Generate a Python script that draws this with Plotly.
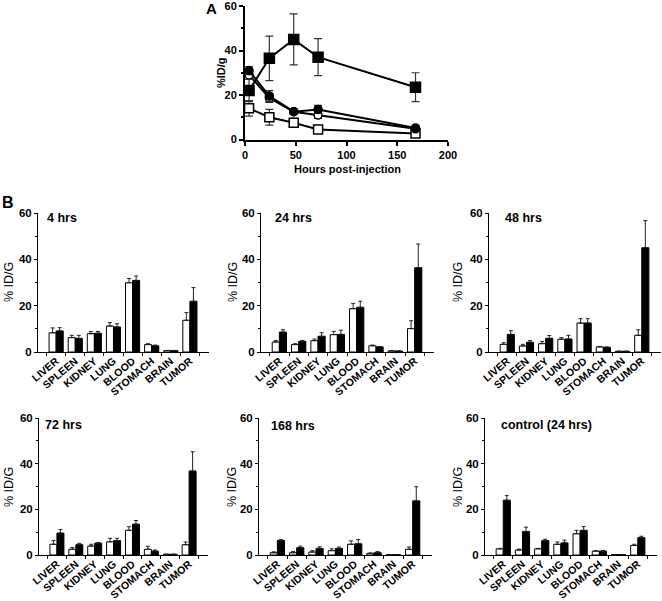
import plotly.graph_objects as go

W, H = 662, 601

# ---------------- Data ----------------
hours = [4, 24, 48, 72, 168]
a_sq_filled = [22.0, 36.5, 45.0, 37.0, 23.5]
a_sq_filled_err = [5.0, 10.0, 11.5, 8.3, 6.5]
a_circ_filled = [31.0, 19.5, 12.5, 13.5, 5.2]
a_circ_filled_err = [1.8, 2.5, 1.0, 1.8, 0.6]
a_circ_open = [29.0, 18.7, 12.5, 11.0, 4.8]
a_circ_open_err = [2.0, 2.0, 1.0, 1.5, 0.5]
a_sq_open = [14.0, 10.0, 7.5, 4.5, 2.7]
a_sq_open_err = [3.5, 3.5, 2.0, 1.0, 0.5]

organs = ["LIVER", "SPLEEN", "KIDNEY", "LUNG", "BLOOD", "STOMACH", "BRAIN", "TUMOR"]
panel_titles = ["4 hrs", "24 hrs", "48 hrs", "72 hrs", "168 hrs", "control (24 hrs)"]

white_4 = [8.3, 6.2, 7.9, 11.2, 29.9, 3.2, 0.6, 13.7]
white_4_err = [2.1, 1.0, 0.9, 1.5, 1.8, 0.4, 0.1, 3.3]
black_4 = [9.1, 5.9, 8.1, 10.8, 30.9, 2.7, 0.6, 21.9]
black_4_err = [1.4, 1.3, 0.8, 1.4, 1.9, 0.3, 0.1, 5.9]

white_24 = [4.3, 3.2, 4.9, 7.5, 18.7, 2.7, 0.5, 10.1]
white_24_err = [0.7, 0.4, 0.7, 1.4, 2.3, 0.3, 0.1, 3.4]
black_24 = [8.6, 4.6, 6.8, 7.6, 19.3, 2.2, 0.4, 36.4]
black_24_err = [1.0, 0.4, 1.5, 1.8, 2.6, 0.2, 0.1, 10.2]

white_48 = [3.3, 2.6, 3.6, 5.5, 12.5, 2.2, 0.3, 7.2]
white_48_err = [0.7, 0.7, 0.9, 0.7, 1.9, 0.2, 0.05, 2.4]
black_48 = [7.6, 4.2, 5.9, 5.6, 12.5, 2.0, 0.3, 45.0]
black_48_err = [1.6, 0.7, 1.2, 1.6, 1.9, 0.2, 0.05, 11.7]

white_72 = [4.7, 2.5, 3.9, 5.8, 10.8, 2.5, 0.3, 4.5]
white_72_err = [1.6, 0.8, 0.8, 1.5, 1.6, 1.3, 0.05, 1.2]
black_72 = [9.6, 4.5, 5.2, 6.3, 13.5, 1.7, 0.3, 36.8]
black_72_err = [1.6, 0.6, 0.3, 1.0, 1.6, 0.5, 0.05, 8.4]

white_168 = [1.0, 1.0, 1.3, 1.9, 4.7, 0.7, 0.15, 2.5]
white_168_err = [0.4, 0.5, 0.6, 0.8, 1.5, 0.2, 0.05, 1.0]
black_168 = [6.4, 3.2, 2.9, 2.9, 4.9, 1.0, 0.15, 23.7]
black_168_err = [0.3, 0.7, 0.7, 0.6, 1.9, 0.5, 0.05, 6.2]

white_ctrl = [2.7, 2.2, 2.7, 4.7, 9.3, 1.7, 0.2, 4.2]
white_ctrl_err = [0.2, 0.4, 0.2, 1.0, 1.5, 0.2, 0.05, 0.5]
black_ctrl = [24.0, 10.3, 6.3, 5.3, 10.8, 1.7, 0.2, 7.6]
black_ctrl_err = [2.0, 1.9, 0.6, 1.2, 1.7, 0.3, 0.05, 0.6]

bar_panels = [
    (white_4, white_4_err, black_4, black_4_err),
    (white_24, white_24_err, black_24, black_24_err),
    (white_48, white_48_err, black_48, black_48_err),
    (white_72, white_72_err, black_72, black_72_err),
    (white_168, white_168_err, black_168, black_168_err),
    (white_ctrl, white_ctrl_err, black_ctrl, black_ctrl_err),
]

# ---------------- Layout helpers ----------------
FONT = "Liberation Sans"


def px(x):
    return x / W


def py(y):
    return 1 - y / H


fig = go.Figure()

# ---------------- Panel A ----------------
def line_trace(y, err, symbol, fill, size):
    return go.Scatter(
        x=hours, y=y, mode="lines+markers", xaxis="x", yaxis="y",
        line=dict(color="black", width=2),
        marker=dict(symbol=symbol, size=size, color=fill, line=dict(color="black", width=1.5)),
        error_y=dict(type="data", array=err, color="#333333", thickness=1.2, width=4),
        cliponaxis=False, showlegend=False,
    )

fig.add_trace(line_trace(a_sq_open, a_sq_open_err, "square", "white", 9))
fig.add_trace(line_trace(a_circ_open, a_circ_open_err, "circle", "white", 8))
fig.add_trace(line_trace(a_circ_filled, a_circ_filled_err, "circle", "black", 8))
fig.add_trace(line_trace(a_sq_filled, a_sq_filled_err, "square", "black", 10))

axA = dict(showline=True, linecolor="black", linewidth=2, ticks="outside", ticklen=4,
           tickwidth=2, tickcolor="black", showgrid=False, zeroline=False, automargin=False,
           ticklabeloverflow="allow",
           tickfont=dict(family=FONT, size=11, color="black", weight="bold"))
fig.update_layout(
    xaxis=dict(domain=[px(245), px(448)], anchor="y", range=[0, 200], dtick=50, **axA),
    yaxis=dict(domain=[py(139.5), py(6)], anchor="x", range=[0, 60], dtick=20,
               minor=dict(dtick=10, ticks="outside", ticklen=2, tickwidth=1.5, tickcolor="black"), **axA),
)

# ---------------- Panel B bar charts ----------------
xdoms = [(38, 209), (261, 434), (489, 661), (39, 208), (259, 432), (485, 657)]
ydoms = [(213, 352)] * 3 + [(418, 555)] * 3

for i, (w, we, b, be) in enumerate(bar_panels):
    n = i + 2
    xa, ya = f"x{n}", f"y{n}"
    for vals, errs, fill in ((w, we, "white"), (b, be, "black")):
        fig.add_trace(go.Bar(
            x=organs, y=vals, xaxis=xa, yaxis=ya,
            marker=dict(color=fill, line=dict(color="black", width=1)),
            error_y=dict(type="data", array=errs, arrayminus=[0] * len(errs), symmetric=False,
                         color="#222222", thickness=1, width=2),
            showlegend=False,
        ))
    x0, x1 = xdoms[i]
    y0, y1 = ydoms[i]
    fig.layout[f"xaxis{n}"] = dict(
        domain=[px(x0), px(x1)], anchor=ya, type="category", range=[-0.95, 8.0],
        showline=True, linecolor="black", linewidth=1, ticks="outside", ticklen=3,
        tickcolor="black", tickson="boundaries", tickangle=-40, showgrid=False, zeroline=False,
        ticklabelstandoff=-2, automargin=False, ticklabeloverflow="allow",
        tickfont=dict(family=FONT, size=10.5, color="black", weight="bold"),
    )
    fig.layout[f"yaxis{n}"] = dict(
        domain=[py(y1), py(y0)], anchor=xa, range=[0, 60], tickvals=[0, 20, 40, 60],
        showline=True, linecolor="black", linewidth=1, ticks="outside", ticklen=3,
        tickcolor="black", showgrid=False, zeroline=False, automargin=False,
        ticklabeloverflow="allow",
        minor=dict(tickvals=[10, 30, 50], ticks="outside", ticklen=2, tickcolor="black"),
        tickfont=dict(family=FONT, size=11.5, color="black", weight="bold"),
    )

# ---------------- Annotations ----------------
ann = []


def text(x, y, s, size, bold=True, angle=0, xanchor="left", yanchor="middle"):
    ann.append(dict(x=px(x), y=py(y), xref="paper", yref="paper", text=s, showarrow=False,
                    textangle=angle, xanchor=xanchor, yanchor=yanchor,
                    font=dict(family=FONT, size=size, color="black", weight="bold" if bold else "normal")))


text(204, 9, "A", 15)
text(0, 203, "B", 16)
text(347, 169, "Hours post-injection", 11, xanchor="center")
text(221, 73, "%ID/g", 11, angle=-90, xanchor="center")

title_pos = [(45, 218), (273, 218), (503, 218), (43, 425), (269, 426), (499, 425)]
for (tx, ty), s in zip(title_pos, panel_titles):
    text(tx, ty, s, 12.5)

ylab_pos = [(9, 282), (233, 282), (458, 282), (9, 487), (232, 487), (458, 487)]
for (tx, ty) in ylab_pos:
    text(tx, ty, "% ID/G", 12.5, bold=False, angle=-90, xanchor="center")

fig.update_layout(
    width=W, height=H, margin=dict(l=0, r=0, t=0, b=0),
    paper_bgcolor="white", plot_bgcolor="white",
    barmode="group", bargap=0.26, bargroupgap=0,
    annotations=ann, showlegend=False,
)

fig.write_html(
    "out.html",
    config={"displayModeBar": False},
    post_script="document.body.style.margin='0';document.body.style.overflow='hidden';",
)
